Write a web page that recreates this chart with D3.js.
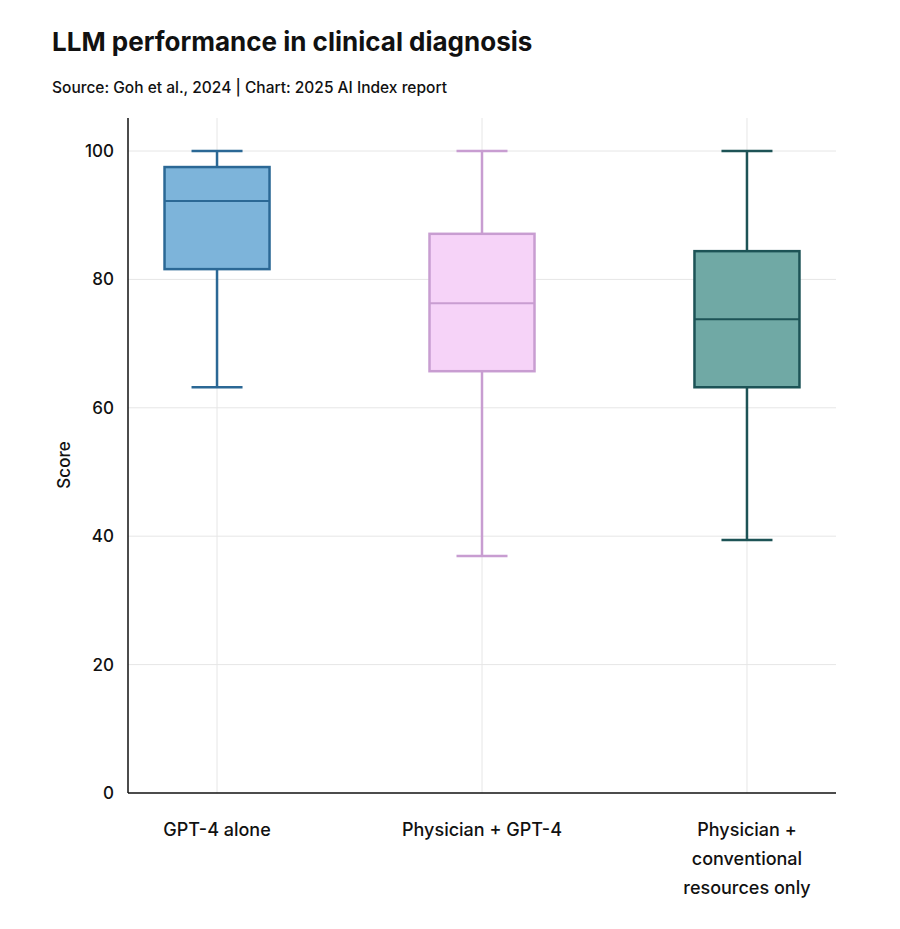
<!DOCTYPE html>
<html><head><meta charset="utf-8">
<script src="https://cdn.jsdelivr.net/npm/d3@7"></script>
<style>body{margin:0;background:#fff;font-family:Inter,"Noto Sans",sans-serif}</style>
</head><body><svg id="c" width="900" height="929"></svg>
<script>
const categories=[["GPT-4 alone"],["Physician + GPT-4"],["Physician +","conventional","resources only"]];
const mins=[63.2,36.9,39.4];
const q1s=[81.6,65.7,63.2];
const medians=[92.2,76.3,73.8];
const q3s=[97.5,87.1,84.4];
const maxs=[100,100,100];
const yTicks=[0,20,40,60,80,100];
const fills=["#7db4da","#f6d3f8","#70a9a5"];
const strokes=["#2b6895","#c89dd1","#1d5356"];

const svg=d3.select("#c");
const L=128,R=836,T=118,B=793;
const x=d3.scalePoint().domain(d3.range(3)).range([L,R]).padding(0.336);
const y=d3.scaleLinear().domain([0,100]).range([B,151]);
const boxW=105, cap=51;

svg.append("text").attr("x",52).attr("y",51).attr("font-size",26).attr("font-weight",700).attr("fill","#111").text("LLM performance in clinical diagnosis");
svg.append("text").attr("x",52).attr("y",93).attr("font-size",15.5).attr("font-weight",500).attr("fill","#111").text("Source: Goh et al., 2024 | Chart: 2025 AI Index report");

const g=svg.append("g");
yTicks.forEach(t=>{ if(t>0) g.append("line").attr("x1",L).attr("x2",R).attr("y1",y(t)).attr("y2",y(t)).attr("stroke","#e6e6e6");});
d3.range(3).forEach(i=>{const cx=x(i);g.append("line").attr("x1",cx).attr("x2",cx).attr("y1",T).attr("y2",B).attr("stroke","#e6e6e6");});

const ax=svg.append("g").attr("transform",`translate(${L},0)`).call(d3.axisLeft(y).tickValues(yTicks).tickSize(0).tickPadding(14));
ax.select(".domain").remove();
ax.selectAll("text").attr("font-size",17).attr("font-weight",500).attr("fill","#111").attr("font-family","Inter,'Noto Sans',sans-serif");
svg.append("line").attr("x1",L).attr("x2",L).attr("y1",T).attr("y2",B).attr("stroke","#111").attr("stroke-width",1.5);
svg.append("line").attr("x1",L).attr("x2",R).attr("y1",B).attr("y2",B).attr("stroke","#111").attr("stroke-width",1.5);

d3.range(3).forEach(i=>{
  const cx=x(i), w=boxW;
  const s=strokes[i], sw=2.5;
  g.append("line").attr("x1",cx).attr("x2",cx).attr("y1",y(maxs[i])).attr("y2",y(q3s[i])).attr("stroke",s).attr("stroke-width",sw);
  g.append("line").attr("x1",cx).attr("x2",cx).attr("y1",y(q1s[i])).attr("y2",y(mins[i])).attr("stroke",s).attr("stroke-width",sw);
  [maxs[i],mins[i]].forEach(v=>g.append("line").attr("x1",cx-cap/2).attr("x2",cx+cap/2).attr("y1",y(v)).attr("y2",y(v)).attr("stroke",s).attr("stroke-width",sw));
  g.append("rect").attr("x",cx-w/2).attr("width",w).attr("y",y(q3s[i])).attr("height",y(q1s[i])-y(q3s[i])).attr("fill",fills[i]).attr("stroke",s).attr("stroke-width",sw);
  g.append("line").attr("x1",cx-w/2).attr("x2",cx+w/2).attr("y1",y(medians[i])).attr("y2",y(medians[i])).attr("stroke",s).attr("stroke-width",2);
  const t=svg.append("text").attr("text-anchor","middle").attr("font-size",18).attr("font-weight",500).attr("fill","#111");
  categories[i].forEach((ln,k)=>t.append("tspan").attr("x",cx).attr("y",836+k*29).text(ln));
});
svg.append("text").attr("transform","translate(70,465) rotate(-90)").attr("text-anchor","middle").attr("font-size",17).attr("font-weight",500).attr("fill","#111").text("Score");
</script></body></html>
